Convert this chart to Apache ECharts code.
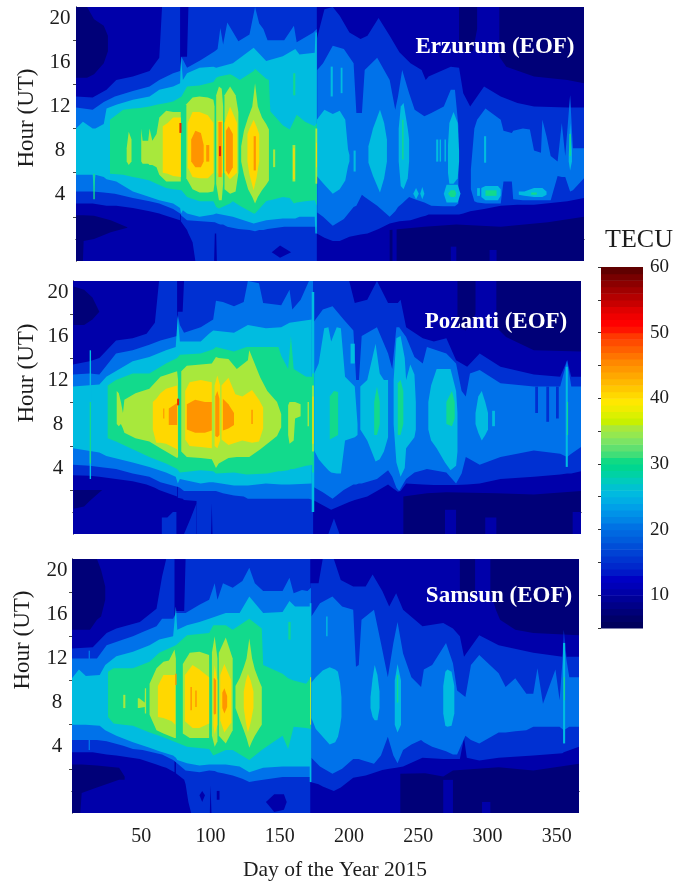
<!DOCTYPE html>
<html><head><meta charset="utf-8">
<script src="https://cdn.jsdelivr.net/npm/echarts@6/dist/echarts.min.js"></script>
<style>html,body{margin:0;padding:0;background:#fff}#c{width:688px;height:881px}</style></head>
<body><div id="c"></div>
<script>
// Every contour piece is a list of [day, lowest hour, highest hour].
const dayTicks=[50,100,150,200,250,300,350];
const hourLabels=[4,8,12,16,20];
const hourTicks=[2,6,10,14,18];
const tecuLabels=[10,20,30,40,50,60];
const tecuTicks=[5,10,15,20,25,30,35,40,45,50,55,60];
const bandColors={5:'#000078',10:'#0000aa',15:'#0030d2',20:'#0072ea',25:'#00bce0',30:'#12da8c',35:'#a8e83c',40:'#ffd800',45:'#ff9400',50:'#e62800'};
const tecuSteps=[5,6,7,8,9,10,11,12,13,14,15,16,17,18,19,20,21,22,23,24,25,26,27,28,29,30,31,32,33,34,35,36,37,38,39,40,41,42,43,44,45,46,47,48,49,50,51,52,53,54,55,56,57,58,59];
const tecuColors=['#00005c','#000068','#000078','#000088','#000098','#0000a8','#0000b8','#0000c4','#0018c8','#0028cc','#0034d0','#0042d4','#004ed8','#005cdc','#0068e0','#0072e4','#0084e6','#0092e8','#00a0e8','#00aee4','#00bae0','#00c2d0','#00ccbc','#00d2a4','#00d690','#10da84','#40de78','#60e070','#7ce464','#94e850','#a8e83c','#c8f000','#dcf000','#f0ec00','#ffe800','#ffd800','#ffc800','#ffb800','#ffa800','#ff9800','#ff8800','#ff7400','#ff6000','#ff4c00','#ff3800','#ff1400','#ff0000','#f00000','#e00000','#c80000','#b40000','#a00000','#8c0000','#780000','#600000'];

// ---------- Erzurum ----------
const eBase=[[0,-2,21],[366,-2,21]];
const e5a=[[0,14.6,21],[8,14.6,21],[13,14.9,19.9],[20,15.9,19.3],[23,17,18.4]];
const e5b=[[0,-2,2.15],[5,-2,2.15],[5.5,-0.2,2.15],[13,0,2.1],[25,0.6,1.7],[37,1,1.05]];
const e5c=[[305,16.5,21],[310,15.6,21],[330,14.7,21],[354,14.4,21],[366,14.1,21]];
const e5d=[[276,18,21],[280,17,21],[286,17,21],[289,19,21]];
const e5e=[[226,-2,0.8],[251,-2,1.1],[274,-2,1.3],[306,-2,1.1],[340,-2,1.5],[366,-2,2]];
const e10a=[[228,-2,0.9],[231,-2,0.9]];
const e10b=[[270,-2,-0.7],[274,-2,-0.7]];
const e10c=[[298,-2,-1],[303,-2,-1]];
const e15a=[[0,3.2,12.9],[12,3.2,12.8],[22,3,13.5],[29,3,14.4],[41,2.8,14.7],[53,2.5,15.2],[60,2.3,16.4],[62,2.2,21],[75,1.7,21]];
const e15b=[[75.5,1.6,16.5],[80,0.8,16.5],[81,0.5,21],[84,-0.3,21],[86,-2,21],[99.5,-2,21],[100,0.5,21],[101,0.5,21],[101.5,-2,21],[173.5,-2,21]];
const e15c=[[173.5,0.5,18.1],[179,0.1,20.8],[185,-0.2,21],[190,-0.2,20.2],[197,0.2,18.7],[205,0.4,18.1],[210,0.5,18.4],[218,0.9,20],[226,1.4,18.4],[233,1.6,16.9],[241,1.7,15.9],[249,2,15.3],[252,2.1,14.4],[254,2.2,14.7],[270,2.2,15.6],[276,2.2,15.5],[279,2.3,13.2],[284,2.5,12],[294,2.7,13.8],[306,3,12.9],[318,3.1,12.3],[330,3.1,12],[354,3.4,11.9],[366,3.7,11.9]];
const e10d=[[141,-1.2,-1.2],[147,-1.7,-0.6],[155,-1.2,-1.2]];
const e20a=[[0,4.3,11.9],[12,4.3,11.7],[20,4.2,12.4],[28,4.1,12.9],[41,3.7,13.4],[53,3.4,13.8],[60,3.2,14.4],[70,2.7,15],[75,2.3,15.2],[76,2.1,16.5],[80,1.7,15.5],[90,1.6,16.2],[100,1.5,17],[102,1.4,17.2],[104,1.3,19.1],[106,1.3,17.6],[109,1.1,19.6],[117,0.9,17.9],[125,0.8,18.5],[129,0.7,21],[132,0.8,19.5],[135,0.8,19],[138,0.9,18],[150,1.1,18],[157,1.1,19.3],[159,1.1,17.8],[171,1.1,18.7],[173.5,1.1,19]];
const e20b=[[173.8,2.4,15.3],[178,2,15.9],[185,1.2,17.5],[193,1.8,17.2],[200,2.9,15.9],[202,3,11.4],[206,4,11.4],[208,3.8,15.3],[217,3,16.4],[226,2,14.4],[230,2.5,11.7],[232,2.9,12.9],[235,3.2,15.3],[240,3.8,13.2],[244,3.6,11.7],[251,3.3,11.1],[256,3,11.4],[265,2.95,12],[270,2.95,13.5],[273,2.95,13.5],[275.5,3.2,10.2]];
const e20c=[[284.5,4.5,6.3],[287,3.4,10],[289,3.3,10.8],[295,3.2,11.8],[306,3.2,10.8],[308,5.2,9.8],[314,5.2,9.6],[315,3.6,9.8],[322,3.5,10],[327,3.5,9.9],[330,3.5,8],[335,3.5,7.8],[336,3.5,10.8],[339,3.5,9.3],[342,3.5,7.5],[347,5.7,7],[350,5.6,10.5],[352.5,5.6,7.5],[356,4.3,13],[358,4.4,8.2],[366,5.5,8.2]];
const e25a=[[0,5.8,10],[5,5.8,10.6],[12,5.8,10],[13,4.2,10],[14,5.8,10],[20,5.6,10.4],[22,5.4,11.8],[29,5.2,12.15],[41,4.3,12.6],[53,3.8,12.9],[60,3.5,13.5],[70,3.2,13.8],[75,2.8,14.1],[75.7,2.3,16.5],[77,2.6,14.4],[80,2.3,15],[89,2,15.5],[99,2.2,15.6],[101,2.3,15.5],[113,2,15.9],[128,1.4,17.3],[137,1.7,16.1],[149,1.85,16.55],[158,1.85,17.2],[161,2,16.7],[172,2,16.85],[172.5,0.5,18.7],[173.5,0.5,18.7]];
const e25b=[[173.5,5.7,10.8],[179,4.9,11.7],[185,4.1,11.3],[190,4.5,11.6],[194,5.3,10.8],[196,6.6,8.1],[197,7,7.6]];
const e25c=[[210.7,6.9,8.4],[214,5.7,10],[219,4.2,11.7],[222,5.5,10.5],[224,7,9]];
const e25d=[[232.5,7,10],[234,4.8,12],[236,4.5,12.3],[239,5.5,10],[240,7,9]];
const e25e=[[268,6,8.5],[269,5,10.5],[272,5,11.5],[275,5.5,10.5],[276,7,8]];
const e25f=[[355,7,7.5],[356,6.2,10.5],[357.3,7,8]];
const e25g=[[183.5,12.9,15.6],[185,12.9,15.6]];
const e25h=[[190.7,13.2,15.5],[192,13.2,15.5]];
const e25i=[[294,6.9,9.3],[295.5,6.9,9.3]];
const e25j=[[259.5,7,9],[261,7,9]];
const e25p=[[262,7,9],[263,7,9]];
const e25q=[[265.5,7,9],[266.5,7,9]];
const e25r=[[200,6.1,8],[201.5,6.1,8]];
const e25k=[[243,4.1,4.1],[245,3.6,4.6],[247,4.1,4.1]];
const e25s=[[248,4.1,4.1],[249.5,3.6,4.7],[251,4.1,4.1]];
const e25l=[[265,4.1,4.1],[267,3.3,4.9],[275,3.3,4.9],[277,4.1,4.1]];
const e25m=[[289,3.9,4.6],[291,3.9,4.6]];
const e25n=[[292,3.8,4.6],[295,3.5,4.8],[304,3.5,4.8],[306,3.9,4.5]];
const e25o=[[319,4,4.3],[323,3.9,4.3],[330,3.8,4.6],[336,3.8,4.6],[339,4,4.3]];
const e30a=[[24.5,5.9,10.8],[34,5.8,11.7],[41,5.6,11.8],[46,5.5,11.85],[53,5.3,12],[58,5,12.15],[65,4.6,12.3],[70,4.5,12.45],[76,4.4,12.9],[80,3.8,13.8],[89,3.4,13.9],[99,3.4,14.2],[101,2.9,14.6],[103,2.75,14.7],[111,3.2,14.9],[113,3.4,14.8],[118,3,14.4],[128,2.3,15.2],[129,2.3,15.4],[137,3.4,14.5],[139,3.5,14.4],[140,3.5,11.55],[149,3.8,10.3],[154,3.7,9.9],[157,3.2,10.7],[159,3.3,11.25],[165,3.4,10.6],[172,3.5,10.2],[173.5,3,10.5]];
const e30b=[[156.5,13,15],[158,13,15]];
const e30c=[[235,7.2,10.8],[236,7.2,10.8]];
const e30d=[[355.5,7.5,9.5],[356.5,7.5,9.5]];
const e30e=[[12.5,3.6,5.9],[13.5,3.6,5.9]];
const e30f=[[268,4.1,4.1],[270,3.8,4.4],[273,3.8,4.4],[274,4.1,4.1]];
const e30g=[[295,3.9,4.4],[303,3.9,4.4]];
const e30h=[[328,4,4.2],[332,4,4.2]];
const e35a=[[36.5,7,8.2],[38,6.7,9.7],[40,7,9]];
const e35b=[[47,7,10],[48,6.8,8.9],[52,6.8,8.9],[53,6.7,10],[55,6.7,8.9],[58,6.5,9.5],[60,5.8,11],[65,5.2,11.6],[70,5.2,11.5],[75.5,5.2,11.5]];
const e35c=[[79.5,5.5,12.2],[84,4.5,12.8],[89,4.2,12.9],[95,4.2,12.8],[99,4.3,12.6],[99.8,5,12]];
const e35d=[[101,5,13],[103,3.5,13.8],[105,3.5,13.6],[106,5,12]];
const e35e=[[107,4.5,13],[111,4.1,13.8],[115,4.3,13],[117,6,11.5]];
const e35f=[[119,7,8.4],[121,5.8,9.8],[124,4.5,11],[127,3.8,12],[129,3.2,14.1],[131,3.8,12],[134,4.4,11],[137,4.9,10.4],[139,5.3,9.9]];
const e35g=[[142,6.5,8.1],[143.5,6.5,8.1]];
const e35h=[[156,5.2,8.5],[158,5.2,8.5]];
const e35i=[[172.5,5,10],[173.8,5,10]];
const e40a=[[62.5,6,10.2],[66,5.9,10.5],[70,5.7,11],[75.5,5.6,11]];
const e40b=[[80.5,6.5,10.5],[84,5.6,11.5],[89,5.5,11.5],[95,5.5,11.2],[99,6,10.5]];
const e40c=[[102,6,10.7],[104,5.6,10.7],[105.8,6,10.7]];
const e40d=[[107,6,10.5],[111,5.4,12],[116,6,10.5]];
const e40e=[[123.5,7,9.5],[125,5.8,10],[128,4.4,10.8],[130,5.5,10.2],[132,7,9.5]];
const e40f=[[156.5,5.4,8.2],[157.5,5.4,8.2]];
const e40g=[[173,6.5,8.7],[173.6,6.5,8.7]];
const e45a=[[83,7,9],[86,6.5,9.8],[90,6.5,9.6],[92,7,8.5]];
const e45b=[[93.8,7,8.5],[96,7,8.5]];
const e45c=[[102.6,5.6,10.6],[105,5.6,10.6]];
const e45d=[[108,6.2,9.8],[110,5.8,10.2],[113,6.5,9.5]];
const e45e=[[128,6.2,9.3],[129.6,6.2,9.3]];
const e50a=[[74.5,9.6,10.5],[76,9.6,10.5]];
const e50b=[[103,7.5,8.4],[104.5,7.5,8.4]];
const erzurumBands=[[10,eBase],[5,e5a],[5,e5b],[5,e5c],[5,e5d],[5,e5e],[10,e10a],[10,e10b],[10,e10c],[15,e15a],[15,e15b],[15,e15c],[10,e10d],[20,e20a],[20,e20b],[20,e20c],[25,e25a],[25,e25b],[25,e25c],[25,e25d],[25,e25e],[25,e25f],[25,e25g],[25,e25h],[25,e25i],[25,e25j],[25,e25p],[25,e25q],[25,e25r],[25,e25k],[25,e25s],[25,e25l],[25,e25m],[25,e25n],[25,e25o],[30,e30a],[30,e30b],[30,e30c],[30,e30d],[30,e30e],[30,e30f],[30,e30g],[30,e30h],[35,e35a],[35,e35b],[35,e35c],[35,e35d],[35,e35e],[35,e35f],[35,e35g],[35,e35h],[35,e35i],[40,e40a],[40,e40b],[40,e40c],[40,e40d],[40,e40e],[40,e40f],[40,e40g],[45,e45a],[45,e45b],[45,e45c],[45,e45d],[45,e45e],[50,e50a],[50,e50b]];

// ---------- Pozanti ----------
const pBase=[[0,-2,21],[366,-2,21]];
const p5a=[[0.5,17,20.5],[8,17,20.2],[14,17.5,19.5],[19,18.2,18.2]];
const p5b=[[0.5,0.3,2],[8,0.5,2],[12,1,2],[21,2,2]];
const p5c=[[305,16.8,21],[312,15.9,21],[332,14.7,21],[366,14.6,21]];
const p5d=[[277,16.8,21],[283,16.5,21],[290,18,21]];
const p5e=[[238,-2,1.4],[255,-2,1.7],[269,-2,1.8],[305,-2,1.7],[332,-2,1.6],[366,-2,1.9]];
const p10a=[[268,-2,0.2],[276,-2,0.2]];
const p10b=[[297,-2,-0.5],[305,-2,-0.5]];
const p10c=[[360,-2,0],[366,-2,0]];
const p15a=[[0,3.35,13.4],[12,3.3,13.7],[19,3.2,14],[31,3,15.6],[43,2.8,15.8],[53,2.5,16.2],[59,2.2,17.2],[62,2,21],[75,1.4,21]];
const p15b=[[75.5,1.3,18.2],[79,1.2,18.2],[80,1.1,21],[89,1,21],[89.2,-2,21],[99.5,-2,21],[100,0.8,21],[100.5,-2,21],[173,-2,21]];
const p15c=[[64,-2,-0.5],[68,-2,-0.5],[72,-2,0],[74.5,-2,0]];
const p15d=[[80,-2,-2],[85,-2,-0.5],[89,-2,0.8]];
const p15e=[[173,1.1,21],[186,0.2,21],[199,0.9,21],[203,1.1,19],[212,1.4,19.3],[219,1.9,21],[227,2.5,19],[230,2.2,19],[234,1.85,19],[236,1.9,19.3],[240,2.6,16.8],[252,2.5,15.8],[260,2.45,15.5],[269,2.45,15.8],[276,2.45,13.8],[284,2.5,13.2],[293,2.6,14.4],[308,3,13.2],[332,3.2,12.5],[351,3.4,12.3],[356,3.5,13.8],[359,3.5,12.3],[366,3.7,12.3]];
const p15f=[[184,-2,-2],[188,-2,-0.6],[192,-2,-2]];
const p20a=[[0,4.3,12.5],[12,4.2,12.6],[19,4.1,12.5],[31,3.9,14.4],[43,3.5,14.7],[55,3.2,15.2],[63,2.7,15.6],[75,2.3,16],[75.5,2.3,17.9],[77,2.2,17],[80,1.9,16.3],[92,1.9,16.8],[101,1.9,17.5],[103,1.9,19.2],[108,1.7,19.1],[116,1.5,18.7],[123,1.4,19.1],[126,1.2,21],[134,1.2,20.8],[137,1.2,19],[150,1.2,18.8],[156,1.2,20.2],[158,1.2,18.4],[164,1.2,19.3],[170,1.2,21],[173,1.1,21]];
const p20b=[[173,2.3,17.2],[180,1.8,18.4],[187,1.2,18.7],[195,2,17.5],[202,2.5,16.5],[204,2.5,12],[206,2.6,12],[208,2.6,16],[219,3,16.8],[227,3.8,14.4],[230,3.2,13],[233,2.2,16.8],[235,1.9,16.8],[240,3,15.9],[246,3.6,14.1],[252,3.8,13.5],[255,3.9,15],[269,3.6,14.4],[276,2.6,13.5],[280,3.5,11],[283,5,10.5],[286,4.8,12.6],[293,4.3,12.9],[308,5,11.7],[332,5.6,11.4],[351,5.3,11.4],[356,5,13.8],[359,5.3,11.4],[366,5.9,11.4]];
const p15g=[[333,9,11.4],[335,9,11.4]];
const p15h=[[341,8.2,11.4],[343,8.2,11.4]];
const p15i=[[348,8.5,11.4],[350,8.5,11.4]];
const p25a=[[0,5.8,11.4],[19,5.4,11.6],[24,5.1,12.3],[43,4.5,13.7],[55,4.1,14.1],[67,3.6,14.7],[74,3.2,15],[75.5,2.6,17.8],[77,3,15.5],[92,2.6,15.5],[98,2.7,16.2],[101,2.7,16.5],[116,2.4,16.3],[126,2.4,17],[139,2.6,16.7],[150,2.5,16.8],[156,2.5,17.2],[172,2.6,17.5]];
const p25b=[[12,3,14.7],[13,3,14.7]];
const p25c=[[172,0,20],[173.8,0,20]];
const p25d=[[173.8,5.6,12.6],[177,4.8,13.5],[181,4.2,16.7],[184,3.8,16.8],[186,3.6,15.5],[190,3.5,16.8],[193,3.5,16.7],[196,6.5,12.3],[203,6.8,11.4],[205,7,8]];
const p25e=[[200,13.5,15.3],[203,13.5,15.3]];
const p25f=[[207,7.5,11.4],[212,6.5,12],[218,4.6,15.3],[221,4.8,12.6],[224,5.5,12],[227,6.8,12]];
const p25g=[[231,8,12],[233,4.5,15.8],[236,3.2,16],[239,4,14],[240,5.8,12],[243,6.3,13.4],[246,6.8,12.5],[247,7.5,10]];
const p25h=[[256,7.5,10],[258,6.5,11.5],[262,5.8,13],[268,4.5,13],[272,3.8,13],[276,4.2,11],[277,5.5,9]];
const p25i=[[290,8,9],[292,7.2,10.5],[294.5,6.5,11],[297,7,10],[299,7.5,9]];
const p25j=[[302,7.8,9.2],[304,7.8,9.2]];
const p25k=[[355,4.1,13.2],[356.5,4.1,13.2]];
const p30a=[[25,6.7,11.5],[31,6.4,12],[43,5.7,12.6],[55,5,12.6],[67,4.4,13.5],[75,3.9,14],[77,3.6,14.3],[92,3.8,14.4],[101,3.7,14.8],[103,3.5,15],[116,3.6,14.6],[125,3.4,15],[140,3.5,15],[148,3.7,15],[150,3.7,14.2],[155,3.8,13],[157,3.9,16],[159,3.9,13],[168,4.2,12.3],[173,4.3,12.3]];
const p30b=[[12,4.4,10],[13,4.4,10]];
const p30c=[[172.3,3.6,12.6],[173.5,3.6,12.6]];
const p30d=[[185,6.6,10.5],[188,6.8,11],[191,7,10.9]];
const p30e=[[217,7,10],[219,7,11.4],[221,8,10]];
const p30f=[[234,7,11.7],[236,7,12],[238,8,11]];
const p30g=[[269,8,10],[273,7.8,11],[275,8.5,10]];
const p30h=[[356,7,10],[356.7,7,10]];
const p35a=[[31.5,8,11],[33,7.8,10.8],[34.5,8,10],[36,7.6,9],[37,7.2,10.2],[45,6.7,10.8],[55,6.4,11.2],[63,5.8,12.3],[75,4.9,12.8],[75.7,5,12]];
const p35b=[[78,5.5,12.8],[82,5,13.3],[92,4.9,13.4],[100,4.8,13.5],[103,4,14.1],[105,4.4,14],[112,4.9,13.9],[118,5,13],[126,5,13.8],[127,5,14.7],[135,5.7,12.2],[140,6.2,11],[147,6.9,10],[150,7.7,8.9]];
const p35c=[[155,7,9.7],[156,6.2,10],[159,6.5,10],[160,8.5,10],[164,8.7,9.8]];
const p35d=[[169,7.8,10],[170,7.8,10]];
const p35e=[[172.3,5.5,11.5],[173.5,5.5,11.5]];
const p40a=[[57.5,7.5,10],[60,6.3,10.3],[63,6.3,10.8],[67,6.2,11.2],[75,5.7,11.5],[75.5,5,10]];
const p40b=[[80.8,6.6,11],[84,6,11.8],[92,5.9,12],[100,5.8,11.8]];
const p40c=[[102,6,11.5],[104,5.8,12.4],[106,6.5,11.5]];
const p40d=[[107,6.6,11.5],[112,6.1,12.2],[117,6.3,10.7],[122,6.5,10.5],[129,6.3,11.1],[134,6.4,10.2],[137,7.6,9.5]];
const p40e=[[172.5,6.2,10.5],[173.3,6.2,10.5]];
const p45a=[[82,7.5,9.8],[88,7.2,10.2],[95,7.2,10],[100,7.4,10]];
const p45b=[[102.5,6.9,10.5],[104,6.8,11],[105.5,7,10.3]];
const p45c=[[108,7.4,10.3],[112,7.6,9.8],[116,7.9,9]];
const p45d=[[69,7.9,9.4],[75,7.9,9.9]];
const p45e=[[65,8.5,9.4],[65.8,8.5,9.4]];
const p45f=[[128.5,8,9.3],[129.5,8,9.3]];
const p50a=[[75,9.7,10.3],[76.5,9.7,10.3]];
const pozantiBands=[[10,pBase],[5,p5a],[5,p5b],[5,p5c],[5,p5d],[5,p5e],[10,p10a],[10,p10b],[10,p10c],[15,p15a],[15,p15b],[15,p15c],[15,p15d],[15,p15e],[15,p15f],[20,p20a],[20,p20b],[15,p15g],[15,p15h],[15,p15i],[25,p25a],[25,p25b],[25,p25c],[25,p25d],[25,p25e],[25,p25f],[25,p25g],[25,p25h],[25,p25i],[25,p25j],[25,p25k],[30,p30a],[30,p30b],[30,p30c],[30,p30d],[30,p30e],[30,p30f],[30,p30g],[30,p30h],[35,p35a],[35,p35b],[35,p35c],[35,p35d],[35,p35e],[40,p40a],[40,p40b],[40,p40c],[40,p40d],[40,p40e],[45,p45a],[45,p45b],[45,p45c],[45,p45d],[45,p45e],[45,p45f],[50,p50a]];

// ---------- Samsun ----------
const sBase=[[0,-2,21],[366,-2,21]];
const s5a=[[0,14.6,21],[13,14.6,21],[18,15.5,21],[21,15.8,20],[24,17.3,18.5]];
const s5b=[[0,-2,2.4],[6,-2,2.4],[7,-0.2,2.4],[18,0.3,2.3],[34,1,2.1],[38,1,1.3]];
const s5c=[[302,18,21],[306,16.4,21],[309,15.5,21],[320,14.6,21],[333,14.3,21],[366,14.1,21]];
const s5d=[[280,17,21],[291,18,21]];
const s5e=[[237,-2,1.55],[255,-2,1.6],[268,-2,1.3],[275,-2,1.85],[308,-2,2.15],[333,-2,1.85],[366,-2,2.45]];
const s10a=[[268,-2,1],[275,-2,1]];
const s10b=[[296,-2,-1],[302,-2,-1]];
const s15a=[[0,3.5,12.9],[15,3.5,13],[25,3.3,14.3],[32,3.2,14.7],[49,2.9,15.3],[61,2.4,16.5],[65,2.2,19.4],[68,2.1,21],[74,1.7,21]];
const s15b=[[75,1.6,16.3],[81,1,16.3],[82,0.6,21],[84,-1,21],[86,-2,21],[99.5,-2,21],[100,0.5,21],[100.7,-2,21],[172,-2,21]];
const s15c=[[172,0.8,18.8],[178,0.6,18.8],[181,0.4,21],[189,0,21],[194,0.3,19.1],[203,1.2,18.5],[212,1.4,18.5],[217,1.6,19.6],[224,1.9,18.1],[229,2,16.7],[234,2.1,17.9],[239,2.2,16.4],[253,3,14.9],[268,2.9,15.2],[275,2.9,14.7],[280,2.9,14],[283,4.8,12.15],[285,3,12.5],[294,2.75,14.1],[308,3,13.2],[333,3.2,12.5],[354,3.4,12.15],[355,3.5,14.6],[357,3.6,12.15],[366,4,12.15]];
const s10c=[[92,-0.4,-0.4],[94,-1,0],[96,-0.4,-0.4]];
const s10d=[[104.5,-0.8,0],[106.5,-0.8,0]];
const s10e=[[140,-1,-1],[146,-1.9,-0.3],[153,-1.7,-0.3],[155,-1,-1]];
const s20a=[[0,4.6,12],[18,4.6,12],[25,4.5,13.2],[37,4.1,13.7],[44,3.8,14],[51,3.7,14.4],[61,3.4,14.9],[65,3.3,15.6],[73,2.8,15.6],[75,2.6,16.1],[82,1.85,16.1],[92,1.7,16.85],[99,1.85,17.3],[103,1.8,18.8],[105,1.7,17.3],[109,1.6,18.8],[116,1.4,18.4],[123,1.1,19],[128,0.8,20.2],[132,0.9,18.8],[138,1,18.1],[152,1.25,18.1],[157,1.25,19.3],[160,1.25,17.9],[166,1.25,18.2],[170,1.25,18.1],[172.5,1.25,18.4]];
const s20b=[[172.8,3,15.8],[179,2.2,17],[188,1.55,17.6],[195,2,16.7],[203,2.9,16.4],[205,2.9,11.25],[207,2.9,11.4],[209,2.8,15.5],[218,2.45,16.4],[223,3.2,13.4],[228,4.9,10.3],[232,3.2,13.4],[235,2.5,15.3],[239,3.7,12.45],[245,4.2,10.3],[252,4.6,9.4],[254,4.4,11],[260,4,11.4],[270,3.6,13.4],[275,3.3,11.55],[278,3.3,9.1],[284,5,8.5],[288,4.6,11.4],[294,4.3,12.3],[308,5.3,10.65],[313,5.3,9.4],[320,5.4,10.2],[328,5.5,8.8],[333,5.8,8.8],[336,5.8,11.1],[340,5.8,7.9],[349,5.8,11],[352,5.8,8.2],[355,5.5,13.4],[359,5.8,10.3],[366,5.8,10.3]];
const s20c=[[12,3.7,12.7],[13,3.7,12.7]];
const s25a=[[0,6,10.2],[5,6,11],[10,6,10.4],[20,5.9,10.5],[24,5.5,11.4],[32,5,12.2],[44,4.4,12.6],[56,3.9,13.2],[63,3.6,13.7],[73,3.2,14],[75,3,16.7],[76,2.8,14.6],[83,2.5,15],[92,2.3,15.3],[99,2.4,15.6],[111,2.4,16.1],[121,2.2,16.1],[128,1.7,17.6],[138,2.1,16.1],[152,2.2,16.2],[157,2.2,17.2],[161,2.2,16.7],[172.5,2.2,16.7]];
const s25b=[[172.8,6.6,9.8],[176,5.6,10.3],[181,4.9,10.9],[186,4.2,11.2],[190,4.4,11],[192,4.9,10.8],[193.5,5.8,9.8],[194.5,6.7,8.5]];
const s25c=[[183.5,14,15.8],[184.5,14,15.8]];
const s25d=[[215.5,7.5,8.5],[217,6.7,10.2],[218.5,6.4,11.4],[220.5,6.4,10.5],[222,7.5,9]];
const s25e=[[233,6,10],[235,5.3,11.5],[237.5,6,10]];
const s25f=[[268,7,9.5],[269.5,5.9,10.8],[271,5.8,11],[274,5.9,10.8],[276,7,9.5]];
const s25g=[[354.5,4.3,13.4],[356,4.3,13.4]];
const s25h=[[171.6,0.8,17],[172.8,0.8,17]];
const s30a=[[26,6.7,10.8],[30,6.1,11.1],[37,6,11.1],[44,5.9,11.1],[56,5.3,11.7],[63,5,12.5],[75,4.4,13.2],[83,4,14.1],[99,3.8,14.3],[102,3.2,15],[111,3.7,15],[116,3.7,14.6],[128,2.8,15.6],[137,3.7,14.7],[138,3.8,11.4],[152,5,10.6],[156,3.8,10.2],[160,5.8,10],[169,5.7,9.7],[172.5,5.6,10.3]];
const s30b=[[156.2,13.7,15.3],[157.8,13.7,15.3]];
const s30c=[[234.5,8,10.5],[235.5,8,10.5]];
const s30d=[[355,8.2,10.3],[355.8,8.2,10.3]];
const s35a=[[37,7.5,8.7],[38.5,7.5,8.7]];
const s35b=[[47.5,7.5,8.4],[48.5,7.5,8.4],[52.5,7.6,8],[52.6,7,9.3],[53.5,7,9.3]];
const s35c=[[56,6.9,9.7],[61,5.5,11.1],[66,5.2,11.7],[70,5,11.8],[74,4.8,12.8],[75,4.8,12]];
const s35d=[[80,5.2,11.5],[85,4.8,12.5],[92,4.8,12.6],[99,4.8,12.3]];
const s35e=[[101,5,12.5],[103,4,14],[105,4.5,12]];
const s35f=[[106,5,12.5],[111,4.3,13.9],[116,5.5,12]];
const s35g=[[118,7.5,9.5],[121,6.5,10.2],[124,5.5,11.2],[126,4.8,12],[128,3.9,13.8],[130,4.5,12],[132,5,11],[135,5.6,10],[137,6,9.4]];
const s35h=[[171.8,6,10.3],[172.6,6,10.3]];
const s40a=[[62,6.7,9.5],[66,6.6,10.5],[72,6.3,10.5],[74.5,6,10.5]];
const s40b=[[81.5,6.3,10.5],[87,5.7,11.4],[92,5.7,11],[99,6.1,10.3]];
const s40c=[[102,6,10],[103,5.1,11.4],[105,6,10]];
const s40d=[[107,6.4,10.5],[110,5.3,11.5],[115,6.2,10]];
const s40e=[[124,7.5,9],[125.5,6.2,10],[127,5.3,10.6],[129,6.2,10],[131,7.5,9]];
const s45a=[[85.5,7.3,9.4],[86.5,7.3,9.4]];
const s45b=[[89,7.6,9.1],[90,7.6,9.1]];
const s45c=[[102.3,7,10.2],[103,6.9,10.2],[104,7,10]];
const s45d=[[108.5,7.5,8.9],[110,7,9.3],[112,7.6,8.6]];
const s45e=[[74.5,9.6,10.6],[75.5,9.6,10.6]];
const samsunBands=[[10,sBase],[5,s5a],[5,s5b],[5,s5c],[5,s5d],[5,s5e],[10,s10a],[10,s10b],[15,s15a],[15,s15b],[15,s15c],[10,s10c],[10,s10d],[10,s10e],[20,s20a],[20,s20b],[20,s20c],[25,s25a],[25,s25b],[25,s25c],[25,s25d],[25,s25e],[25,s25f],[25,s25g],[25,s25h],[30,s30a],[30,s30b],[30,s30c],[30,s30d],[35,s35a],[35,s35b],[35,s35c],[35,s35d],[35,s35e],[35,s35f],[35,s35g],[35,s35h],[40,s40a],[40,s40b],[40,s40c],[40,s40d],[40,s40e],[45,s45a],[45,s45b],[45,s45c],[45,s45d],[45,s45e]];

const SERIF='"Liberation Serif","Times New Roman",serif';
const INK='#1c1c1c', FRAME='#4a4a4a';
const panels=[
 {bands:erzurumBands,left:76,top:7,width:508,height:254,margin:16,xLabels:false,pad:[6,0,0,0]},
 {bands:pozantiBands,left:73,top:281,width:508,height:253,margin:15,xLabels:false,pad:[8,0,0,0]},
 {bands:samsunBands,left:72,top:559,width:507,height:254,margin:15,xLabels:true,pad:[0,0,6,0]}
];
const grids=[],xAxes=[],yAxes=[],series=[];
panels.forEach((p,i)=>{
  grids.push({left:p.left,top:p.top,width:p.width,height:p.height,containLabel:false});
  const line={show:true,lineStyle:{color:FRAME,width:1}};
  const tick={show:true,inside:true,length:3,lineStyle:{color:FRAME,width:1}};
  xAxes.push({type:'value',gridIndex:i,min:0,max:366,position:'bottom',axisLine:line,splitLine:{show:false},
    axisTick:{...tick,customValues:dayTicks},
    axisLabel:{show:p.xLabels,customValues:dayTicks,margin:14,fontFamily:SERIF,fontSize:20,color:INK}});
  xAxes.push({type:'value',gridIndex:i,min:0,max:366,position:'top',axisLine:line,splitLine:{show:false},
    axisTick:{...tick,customValues:dayTicks},axisLabel:{show:false}});
  yAxes.push({type:'value',gridIndex:i,min:-2,max:21,position:'left',axisLine:line,splitLine:{show:false},
    axisTick:{...tick,customValues:hourTicks},
    axisLabel:{customValues:hourLabels,margin:p.margin,align:'center',padding:p.pad,fontFamily:SERIF,fontSize:21,color:INK}});
  yAxes.push({type:'value',gridIndex:i,min:-2,max:21,position:'right',axisLine:line,splitLine:{show:false},
    axisTick:{...tick,customValues:hourTicks},axisLabel:{show:false}});
  series.push({type:'custom',coordinateSystem:'cartesian2d',xAxisIndex:i*2,yAxisIndex:i*2,clip:true,silent:true,
    data:p.bands.map((b,k)=>[k]),
    renderItem:(params,api)=>{
      const [level,tri]=p.bands[params.dataIndex];
      const up=tri.map(t=>api.coord([t[0],t[2]]));
      const dn=tri.slice().reverse().map(t=>api.coord([t[0],t[1]]));
      return {type:'polygon',shape:{points:up.concat(dn)},style:{fill:bandColors[level]}};
    }});
});
// colour bar
grids.push({left:601,top:267,width:42,height:361});
xAxes.push({type:'value',gridIndex:3,min:0,max:1,axisLine:{show:false},axisTick:{show:false},axisLabel:{show:false},splitLine:{show:false}});
yAxes.push({type:'value',gridIndex:3,min:5,max:60,position:'right',splitLine:{show:false},
  axisLine:{show:false},
  axisTick:{show:true,inside:true,length:3,customValues:tecuTicks,lineStyle:{color:'#333'}},
  axisLabel:{customValues:tecuLabels,margin:7,padding:[2,0,0,0],fontFamily:SERIF,fontSize:19,color:INK}});
series.push({type:'custom',coordinateSystem:'cartesian2d',xAxisIndex:6,yAxisIndex:6,silent:true,
  data:tecuSteps.map(v=>[0,v]),
  renderItem:(params,api)=>{
    const v=tecuSteps[params.dataIndex];
    const a=api.coord([0,v]),b=api.coord([1,v+1]);
    return {type:'rect',shape:{x:a[0],y:b[1],width:b[0]-a[0],height:a[1]-b[1]+0.6},style:{fill:tecuColors[params.dataIndex]}};
  }});

function text(t,x,y,size,extra){return Object.assign({type:'text',x,y,z:50,style:{text:t,fontFamily:SERIF,fontSize:size,fill:INK,textAlign:'center',textVerticalAlign:'middle'}},extra||{});}
function white(t,x,y){const g=text(t,x,y,23);g.style.fill='#fff';g.style.fontWeight='bold';return g;}
function rotated(t,x,y){return text(t,x,y,23,{rotation:Math.PI/2});}
const chart=echarts.init(document.getElementById('c'),null,{renderer:'canvas'});
chart.setOption({animation:false,backgroundColor:'#fff',grid:grids,xAxis:xAxes,yAxis:yAxes,series,
  graphic:[
    white('Erzurum (EOF)',495,47),white('Pozanti (EOF)',496,322),white('Samsun (EOF)',499,596),
    rotated('Hour (UT)',27,118),rotated('Hour (UT)',27,373),rotated('Hour (UT)',23,640),
    text('TECU',639,240,26),
    text('Day of the Year 2015',335,870,21.5)
  ]});
</script></body></html>
